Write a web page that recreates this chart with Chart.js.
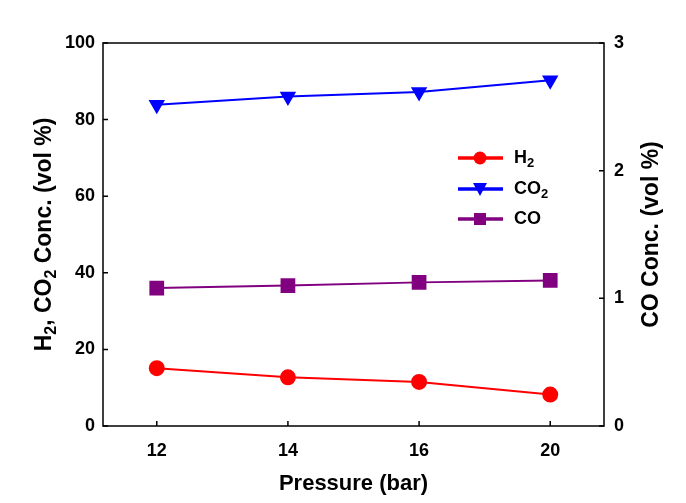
<!DOCTYPE html>
<html><head><meta charset="utf-8">
<script src="https://cdn.jsdelivr.net/npm/chart.js@4/dist/chart.umd.min.js"></script>
<style>html,body{margin:0;padding:0;background:#fff}#wrap{width:686px;height:503px}</style>
</head><body><div id="wrap"><canvas id="c" width="686" height="503"></canvas></div>
<script>
const pressures = ['12', '14', '16', '20'];
const h2 = [15.1, 12.7, 11.5, 8.2];
const co2 = [83.9, 86.0, 87.2, 90.3];
const co = [1.08, 1.10, 1.125, 1.14];
const leftTicks = [0, 20, 40, 60, 80, 100];
const rightTicks = [0, 1, 2, 3];

const FONT = '"Liberation Sans", Arial, sans-serif';
const toXY = arr => arr.map((v, i) => ({x: i, y: v}));

function drawRich(ctx, parts, x, y, size, subSize) {
  let total = 0;
  parts.forEach(p => { ctx.font = 'bold ' + (p[1] ? subSize : size) + 'px ' + FONT; total += ctx.measureText(p[0]).width; });
  let cx = x - total / 2;
  parts.forEach(p => {
    ctx.font = 'bold ' + (p[1] ? subSize : size) + 'px ' + FONT;
    ctx.fillText(p[0], cx, y + (p[1] ? size * 0.28 : 0));
    cx += ctx.measureText(p[0]).width;
  });
}

const frame = {
  id: 'frame',
  afterDraw(chart) {
    const {ctx, chartArea: a, scales} = chart;
    ctx.save();
    ctx.strokeStyle = '#000'; ctx.lineWidth = 1.5;
    ctx.strokeRect(a.left, a.top, a.right - a.left, a.bottom - a.top);
    ctx.beginPath();
    leftTicks.forEach(v => { const p = scales.y.getPixelForValue(v); ctx.moveTo(a.left, p); ctx.lineTo(a.left + 5, p); });
    rightTicks.forEach(v => { const p = scales.y1.getPixelForValue(v); ctx.moveTo(a.right, p); ctx.lineTo(a.right - 5, p); });
    pressures.forEach((l, i) => { const p = scales.x.getPixelForValue(i); ctx.moveTo(p, a.bottom); ctx.lineTo(p, a.bottom - 5); });
    ctx.stroke();

    ctx.fillStyle = '#000'; ctx.textBaseline = 'middle'; ctx.textAlign = 'left';
    drawRich(ctx, [['Pressure (bar)', false]], (a.left + a.right) / 2, 484, 22, 16);
    const cy = (a.top + a.bottom) / 2;
    ctx.save(); ctx.translate(45, cy); ctx.rotate(-Math.PI / 2);
    drawRich(ctx, [['H', false], ['2', true], [', CO', false], ['2', true], [' Conc. (vol %)', false]], 0, 0, 23, 16);
    ctx.restore();
    ctx.save(); ctx.translate(652, cy); ctx.rotate(-Math.PI / 2);
    drawRich(ctx, [['CO Conc. (vol %)', false]], 0, 0, 23, 16);
    ctx.restore();

    const items = [
      {c: '#ff0000', t: [['H', false], ['2', true]], m: 'circle'},
      {c: '#0000ff', t: [['CO', false], ['2', true]], m: 'tri'},
      {c: '#800080', t: [['CO', false]], m: 'rect'}
    ];
    const ly = [158, 189, 219];
    items.forEach((it, k) => {
      const y = ly[k];
      ctx.strokeStyle = it.c; ctx.fillStyle = it.c; ctx.lineWidth = 3.5;
      ctx.beginPath(); ctx.moveTo(458, y); ctx.lineTo(503, y); ctx.stroke();
      ctx.beginPath();
      if (it.m === 'circle') { ctx.arc(480, y, 6.5, 0, Math.PI * 2); }
      else if (it.m === 'tri') { ctx.moveTo(473, y - 6); ctx.lineTo(487, y - 6); ctx.lineTo(480, y + 7); ctx.closePath(); }
      else { ctx.rect(474, y - 6, 12, 12); }
      ctx.fill();
      ctx.fillStyle = '#000';
      let cx = 514;
      it.t.forEach(p => {
        const sz = p[1] ? 13 : 18;
        ctx.font = 'bold ' + sz + 'px ' + FONT;
        ctx.fillText(p[0], cx, y + (p[1] ? 5 : 0));
        cx += ctx.measureText(p[0]).width;
      });
    });
    ctx.restore();
  }
};

new Chart(document.getElementById('c'), {
  type: 'line',
  data: {
    datasets: [
      {label: 'H2', data: toXY(h2), yAxisID: 'y', borderColor: '#ff0000', backgroundColor: '#ff0000', borderWidth: 2, pointStyle: 'circle', pointRadius: 7, pointHoverRadius: 7},
      {label: 'CO2', data: toXY(co2), yAxisID: 'y', borderColor: '#0000ff', backgroundColor: '#0000ff', borderWidth: 2, pointStyle: 'triangle', pointRotation: 180, pointRadius: 7.5, pointHoverRadius: 7.5},
      {label: 'CO', data: toXY(co), yAxisID: 'y1', borderColor: '#800080', backgroundColor: '#800080', borderWidth: 2, pointStyle: 'rect', pointRadius: 9, pointHoverRadius: 9}
    ]
  },
  options: {
    responsive: false, animation: false,
    layout: {padding: {top: 43, left: 0, right: 0, bottom: 0}},
    plugins: {legend: {display: false}, tooltip: {enabled: false}},
    scales: {
      x: {
        type: 'linear', position: 'bottom', min: -0.41, max: 3.41,
        afterBuildTicks: s => { s.ticks = pressures.map((l, i) => ({value: i})); },
        afterFit: s => { s.height = 77; },
        grid: {display: false, drawTicks: false}, border: {display: false},
        ticks: {callback: v => pressures[v], color: '#000', padding: 14, font: {family: FONT, size: 18, weight: 'bold'}, maxRotation: 0, autoSkip: false}
      },
      y: {
        position: 'left', min: 0, max: 100,
        afterBuildTicks: s => { s.ticks = leftTicks.map(v => ({value: v})); },
        afterFit: s => { s.width = 103; },
        grid: {display: false, drawTicks: false}, border: {display: false},
        ticks: {color: '#000', padding: 8, font: {family: FONT, size: 18, weight: 'bold'}}
      },
      y1: {
        position: 'right', min: 0, max: 3,
        afterBuildTicks: s => { s.ticks = rightTicks.map(v => ({value: v})); },
        afterFit: s => { s.width = 82; },
        grid: {display: false, drawTicks: false}, border: {display: false},
        ticks: {color: '#000', padding: 10, font: {family: FONT, size: 18, weight: 'bold'}}
      }
    }
  },
  plugins: [frame]
});
</script></body></html>
